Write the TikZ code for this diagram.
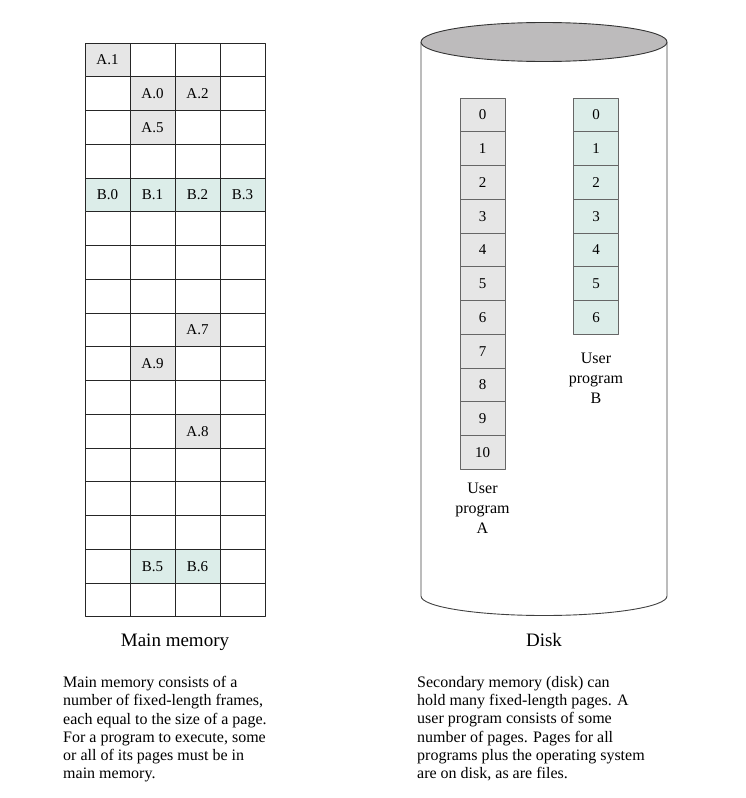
\documentclass[tikz,border=0pt]{standalone}
\usepackage{fontspec}
\setmainfont{Liberation Serif}
\usetikzlibrary{positioning}
\definecolor{pageA}{HTML}{E6E6E6}
\definecolor{pageB}{HTML}{DCEDE9}
\definecolor{disktop}{HTML}{BDBBBC}
\tikzset{
  frame/.style={draw=black!85, line width=.9pt, minimum width=45pt, minimum height=33.76pt,
    inner sep=0pt, outer sep=0pt, font=\fontsize{15}{15}\selectfont},
  fa/.style={frame, fill=pageA},
  fb/.style={frame, fill=pageB},
  slot/.style={draw=black!60, line width=.9pt, minimum width=45pt, minimum height=33.76pt,
    inner sep=0pt, outer sep=0pt, font=\fontsize{15}{15}\selectfont},
  caption/.style={font=\fontsize{19}{22}\selectfont},
  para/.style={align=left, anchor=north west, inner sep=0pt, font=\fontsize{16}{18.3}\selectfont},
  uname/.style={align=center, inner sep=0pt, font=\fontsize{16}{20}\selectfont}
}
\begin{document}
\begin{tikzpicture}[x=1pt,y=-1pt, line join=round]
\useasboundingbox (0,0) rectangle (746,798);
\def\cw{45} \def\ch{33.76} % cell size
\def\mx{85} \def\my{43}
% main memory
\foreach \r in {0,...,16}
  \foreach \c in {0,...,3}
    \node[frame] (f-\r-\c) at ({\mx+(\c+.5)*\cw},{\my+(\r+.5)*\ch}) {};
\foreach \r/\c/\t in {0/0/A.1,1/1/A.0,1/2/A.2,2/1/A.5,8/2/A.7,9/1/A.9,11/2/A.8}
  \node[fa] (p-\r-\c) at (f-\r-\c) {\t};
\foreach \r/\c/\t in {4/0/B.0,4/1/B.1,4/2/B.2,4/3/B.3,15/1/B.5,15/2/B.6}
  \node[fb] (p-\r-\c) at (f-\r-\c) {\t};
\node[caption, anchor=base] (mm) at (175,646) {Main memory};
% disk
\def\cx{544} \def\rx{123} \def\ty{42} \def\by{596} \def\ry{19.5}
\draw[black!75, line width=.9pt] (\cx-\rx,\ty) -- (\cx-\rx,\by)
  arc[start angle=180, end angle=0, x radius=\rx, y radius=\ry] -- (\cx+\rx,\ty);
\draw[black!80, line width=.9pt, fill=disktop] (\cx,\ty) ellipse[x radius=\rx, y radius=\ry];
\foreach \i in {0,...,10}
  \node[slot, fill=pageA] (a-\i) at (482.5,{98+(\i+.5)*\ch}) {\i};
\foreach \i in {0,...,6}
  \node[slot, fill=pageB] (b-\i) at (596,{98+(\i+.5)*\ch}) {\i};
\node[uname, below=13pt of a-10] (ua) {User\\program\\A};
\node[uname, below=18pt of b-6] (ub) {User\\program\\B};
\node[caption, anchor=base] (dk) at (\cx,646) {Disk};
% explanations
\node[para] (tl) at (63,676) {Main memory consists of a\\number of fixed-length frames,\\each equal to the size of a page.\\For a program to execute, some\\or all of its pages must be in\\main memory.};
\node[para] (tr) at (417,676) {Secondary memory (disk) can\\hold many fixed-length pages. A\\user program consists of some\\number of pages. Pages for all\\programs plus the operating system\\are on disk, as are files.};
\end{tikzpicture}
\end{document}
